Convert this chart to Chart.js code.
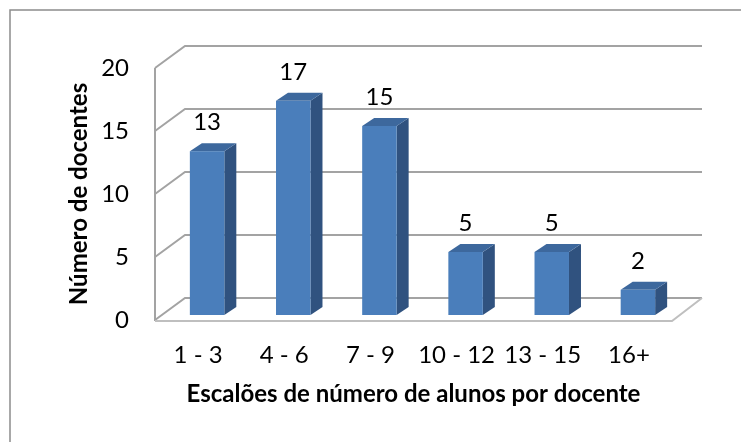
<!DOCTYPE html>
<html>
<head>
<meta charset="utf-8">
<script src="https://cdn.jsdelivr.net/npm/chart.js@4.4.0/dist/chart.umd.min.js"></script>
<style>
body{margin:0;background:#fff;}
#wrap{width:741px;height:442px;position:relative;}
</style>
</head>
<body>
<div id="wrap"><canvas id="chart"></canvas></div>
<script>
const categories=['1 - 3','4 - 6','7 - 9','10 - 12','13 - 15','16+'];
const docentes=[13,17,15,5,5,2];
const yTicks=[0,5,10,15,20];

// 3d look: back wall shift, bar shift inside the depth, bar depth
const depth={x:30,y:-22};
const barShift={x:9,y:-5};
const barDepth={x:12,y:-8};
const gridColor='#a3a3a3';
const fontSize=24;

const box3d={
  id:'box3d',
  beforeDraw(chart){
    const ctx=chart.ctx;
    ctx.save();
    ctx.strokeStyle='#8c8c8c';
    ctx.lineWidth=1.5;
    ctx.strokeRect(10,10,800,600);
    ctx.restore();
  },
  beforeDatasetsDraw(chart){
    const {ctx,chartArea:a,scales:{y}}=chart;
    ctx.save();
    const y0=y.getPixelForValue(0);
    // floor
    ctx.fillStyle='#fff';
    ctx.beginPath();
    ctx.moveTo(a.left,y0);ctx.lineTo(a.right,y0);
    ctx.lineTo(a.right+depth.x,y0+depth.y);ctx.lineTo(a.left+depth.x,y0+depth.y);
    ctx.closePath();ctx.fill();
    // gridlines on left wall + back wall
    ctx.strokeStyle=gridColor;ctx.lineWidth=2;
    yTicks.forEach(v=>{
      const py=y.getPixelForValue(v);
      ctx.beginPath();
      ctx.moveTo(a.left,py);
      ctx.lineTo(a.left+depth.x,py+depth.y);
      ctx.lineTo(a.right+depth.x,py+depth.y);
      ctx.stroke();
    });
    ctx.beginPath();
    ctx.moveTo(a.left,y.getPixelForValue(20));ctx.lineTo(a.left,y0+1);
    ctx.stroke();
    // front edge of floor
    ctx.strokeStyle='#bfbfbf';
    ctx.beginPath();
    ctx.moveTo(a.left,y0+1);ctx.lineTo(a.right,y0+1);ctx.lineTo(a.right+depth.x,y0+depth.y);
    ctx.stroke();
    ctx.restore();
  },
  afterDatasetsDraw(chart){
    const ctx=chart.ctx;
    const meta=chart.getDatasetMeta(0);
    const vals=chart.data.datasets[0].data;
    ctx.save();
    meta.data.forEach((bar,i)=>{
      const w=bar.width;
      const l=bar.x-w/2+barShift.x, r=l+w;
      const t=bar.y+barShift.y, b=bar.base+barShift.y;
      const dx=barDepth.x, dy=barDepth.y;
      ctx.fillStyle='#30527f';
      ctx.beginPath();
      ctx.moveTo(r,t);ctx.lineTo(r+dx,t+dy);ctx.lineTo(r+dx,b+dy);ctx.lineTo(r,b);ctx.closePath();ctx.fill();
      ctx.fillStyle='#3d689d';
      ctx.beginPath();
      ctx.moveTo(l,t);ctx.lineTo(l+dx,t+dy);ctx.lineTo(r+dx,t+dy);ctx.lineTo(r,t);ctx.closePath();ctx.fill();
      ctx.fillStyle='#4a7ebb';
      ctx.fillRect(l,t,w,b-t);
      ctx.fillStyle='#000';
      ctx.font=fontSize+'px Lato';
      ctx.textAlign='center';ctx.textBaseline='middle';
      ctx.fillText(String(vals[i]),(l+r)/2,t-29);
    });
    ctx.restore();
  }
};

new Chart(document.getElementById('chart'),{
  type:'bar',
  data:{
    labels:categories,
    datasets:[{data:docentes,backgroundColor:'rgba(0,0,0,0)',categoryPercentage:1,barPercentage:0.4}]
  },
  options:{
    responsive:true,
    maintainAspectRatio:false,
    animation:false,
    layout:{padding:{left:0,top:68,right:69,bottom:0}},
    plugins:{legend:{display:false},tooltip:{enabled:false}},
    scales:{
      x:{
        grid:{display:false,drawTicks:false},
        border:{display:false},
        ticks:{color:'#000',font:{family:'Lato',size:fontSize},padding:21,maxRotation:0,autoSkip:false},
        title:{display:true,text:'Escalões de número de alunos por docente',color:'#000',
          font:{family:'Lato',size:fontSize,weight:'bold'},padding:{top:0,bottom:33}},
        afterFit(s){s.height=122;}
      },
      y:{
        min:0,max:20,
        grid:{display:false,drawTicks:false},
        border:{display:false},
        ticks:{stepSize:5,color:'#000',font:{family:'Lato',size:fontSize},padding:26},
        title:{display:true,text:'Número de docentes',color:'#000',
          font:{family:'Lato',size:fontSize,weight:'bold'},padding:{top:65,bottom:0}},
        afterFit(s){s.width=155;}
      }
    }
  },
  plugins:[box3d]
});
</script>
</body>
</html>
